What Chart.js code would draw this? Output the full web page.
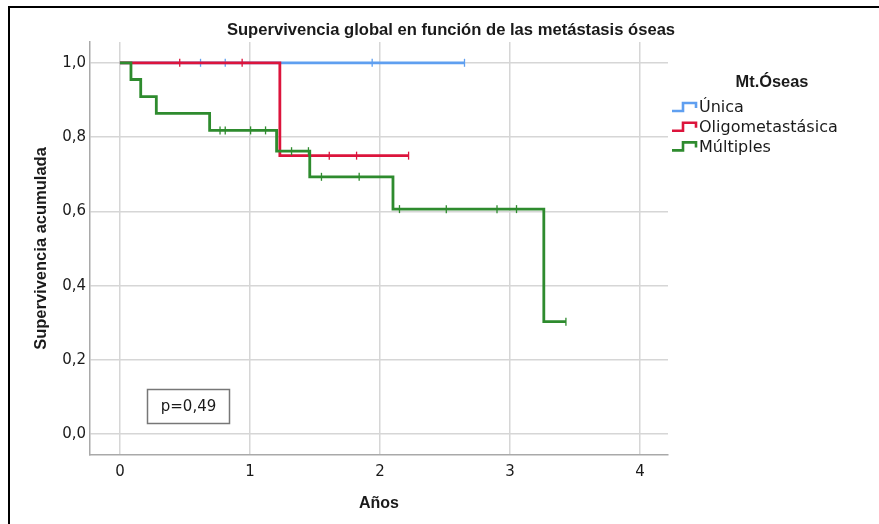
<!DOCTYPE html>
<html><head><meta charset="utf-8">
<script src="https://cdn.jsdelivr.net/npm/chart.js@4/dist/chart.umd.min.js"></script>
<style>html,body{margin:0;padding:0;background:#fff;}#wrap{width:879px;height:524px;position:relative;}</style>
</head><body><div id="wrap"><canvas id="c" width="879" height="524"></canvas></div>
<script>
// ---- data ----
const chartTitle = 'Supervivencia global en función de las metástasis óseas';
const legendTitle = 'Mt.Óseas';
const seriesNames = ['Única', 'Oligometastásica', 'Múltiples'];
const unicaTimes = [0, 2.65];
const unicaSurv = [1, 1];
const unicaCensored = [0.62, 0.81, 1.94, 2.65];
const oligoTimes = [0, 1.23, 2.22];
const oligoSurv = [1, 0.75, 0.75];
const oligoCensored = [0.46, 0.94, 1.61, 1.82, 2.22];
const multTimes = [0, 0.085, 0.16, 0.28, 0.69, 1.205, 1.46, 2.10, 3.26, 3.43];
const multSurv = [1, 0.955, 0.909, 0.864, 0.818, 0.762, 0.693, 0.606, 0.303, 0.303];
const multCensored = [0.77, 0.81, 1.005, 1.12, 1.32, 1.45, 1.55, 1.84, 2.15, 2.51, 2.90, 3.05, 3.43];
const xTickValues = [0, 1, 2, 3, 4];
const yTickValues = [0, 0.2, 0.4, 0.6, 0.8, 1.0];
const xTitle = 'Años';
const yTitle = 'Supervivencia acumulada';
const pValueText = 'p=0,49';

// ---- styling ----
const colors = ['#5f9ff0', '#dc143c', '#2e8b2e'];
const BFONT = '"Liberation Sans", Arial, sans-serif';
const RFONT = '"DejaVu Sans", Verdana, sans-serif';
const TXT = '#1a1a1a';

function survAt(times, surv, t) {
  let s = surv[0];
  for (let i = 0; i < times.length; i++) if (times[i] <= t + 1e-9) s = surv[i];
  return s;
}
const curves = [[unicaTimes, unicaSurv, unicaCensored], [oligoTimes, oligoSurv, oligoCensored], [multTimes, multSurv, multCensored]];
const datasets = [];
curves.forEach(([t, s, c], i) => {
  datasets.push({
    label: seriesNames[i],
    data: t.map((x, k) => ({x: x, y: s[k]})),
    showLine: true, stepped: 'before',
    borderColor: colors[i], backgroundColor: colors[i],
    borderWidth: 2.8, pointRadius: 0, order: 6 - 2 * i
  });
  datasets.push({
    label: seriesNames[i] + ' censurado',
    data: c.map(x => ({x: x, y: survAt(t, s, x)})),
    showLine: false, pointStyle: 'line', rotation: 90,
    pointRadius: 4, borderWidth: 1.3,
    borderColor: colors[i], backgroundColor: colors[i], order: 5 - 2 * i
  });
});

const decor = {
  id: 'decor',
  beforeDraw(chart) {
    const ctx = chart.ctx;
    ctx.save();
    ctx.fillStyle = '#fff';
    ctx.fillRect(0, 0, chart.width, chart.height);
    ctx.strokeStyle = '#000';
    ctx.lineWidth = 2;
    ctx.beginPath();
    ctx.moveTo(9, chart.height + 2); ctx.lineTo(9, 7); ctx.lineTo(chart.width + 2, 7);
    ctx.stroke();
    ctx.restore();
  },
  afterDraw(chart) {
    const ctx = chart.ctx;
    const ca = chart.chartArea;
    ctx.save();
    ctx.fillStyle = TXT;
    ctx.font = 'bold 16.6px ' + BFONT;
    ctx.textAlign = 'center'; ctx.textBaseline = 'middle';
    ctx.fillText(chartTitle, 451, 30);
    const lx = ca.right + 4;
    ctx.font = 'bold 16.4px ' + BFONT;
    ctx.fillText(legendTitle, 772, 82);
    ctx.font = '16px ' + RFONT;
    ctx.textAlign = 'left';
    seriesNames.forEach((n, i) => {
      const cy = 107 + i * 19.7;
      ctx.strokeStyle = colors[i]; ctx.lineWidth = 2.6;
      ctx.beginPath();
      ctx.moveTo(lx, cy + 4); ctx.lineTo(lx + 11, cy + 4); ctx.lineTo(lx + 11, cy - 4);
      ctx.lineTo(lx + 24, cy - 4); ctx.lineTo(lx + 24, cy + 1);
      ctx.stroke();
      ctx.fillStyle = TXT;
      ctx.fillText(n, lx + 27, cy + 1);
    });
    ctx.strokeStyle = '#777'; ctx.lineWidth = 1.5;
    ctx.strokeRect(147.5, 389.5, 82, 34);
    ctx.fillStyle = TXT; ctx.font = '15px ' + RFONT; ctx.textAlign = 'center';
    ctx.fillText(pValueText, 188.5, 407);
    ctx.restore();
  }
};

new Chart(document.getElementById('c'), {
  type: 'scatter',
  data: {datasets: datasets},
  plugins: [decor],
  options: {
    responsive: false, animation: false, devicePixelRatio: 1,
    layout: {padding: {top: 42, right: 211, bottom: 0, left: 0}},
    plugins: {legend: {display: false}, title: {display: false}, tooltip: {enabled: false}},
    scales: {
      x: {
        type: 'linear', min: -0.23, max: 4.215,
        afterBuildTicks: s => { s.ticks = xTickValues.map(v => ({value: v})); },
        afterFit: s => { s.height = 69; },
        grid: {color: '#d6d6d6', lineWidth: 1.5, drawTicks: false},
        border: {color: '#a9a9a9', width: 1.5},
        ticks: {padding: 8, color: TXT, font: {family: RFONT, size: 15}, callback: v => String(v)},
        title: {display: true, text: xTitle, color: TXT, font: {family: BFONT, size: 16, weight: 'bold'}, padding: {top: 0, bottom: 11}}
      },
      y: {
        type: 'linear', min: -0.056, max: 1.056,
        afterBuildTicks: s => { s.ticks = yTickValues.map(v => ({value: v})); },
        afterFit: s => { s.width = 90; },
        grid: {color: '#d6d6d6', lineWidth: 1.5, drawTicks: false},
        border: {color: '#a9a9a9', width: 1.5},
        ticks: {padding: 4, color: TXT, font: {family: RFONT, size: 15}, callback: v => v.toFixed(1).replace('.', ',')},
        title: {display: true, text: yTitle, color: TXT, font: {family: BFONT, size: 16.5, weight: 'bold'}, padding: {top: 32, bottom: 0}}
      }
    }
  }
});
</script></body></html>
